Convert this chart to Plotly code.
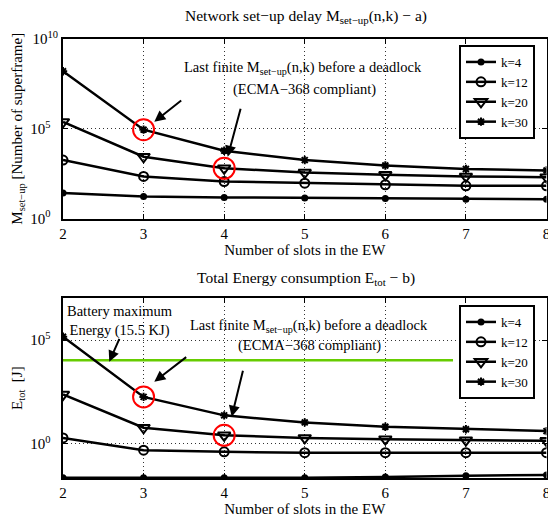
import plotly.graph_objects as go

# ---------------- data ----------------
n_slots = [2, 3, 4, 5, 6, 7, 8]
series_names = ["k=4", "k=12", "k=20", "k=30"]

# Network set-up delay M_set-up(n,k) [number of superframes]
msetup_k4 = [26, 17, 15, 14, 13, 12, 12]
msetup_k12 = [1800, 220, 115, 93, 76, 66, 66]
msetup_k20 = [2.4e5, 2750, 630, 360, 270, 220, 200]
msetup_k30 = [1.6e8, 8.9e4, 6000, 1800, 890, 575, 470]

# Total energy consumption E_tot [J]
etot_k4 = [0.022, 0.022, 0.022, 0.0224, 0.024, 0.028, 0.030]
etot_k12 = [1.86, 0.48, 0.40, 0.36, 0.36, 0.36, 0.36]
etot_k20 = [235, 5.8, 2.5, 1.86, 1.62, 1.45, 1.35]
etot_k30 = [1.45e5, 180, 23, 10.5, 6.5, 4.9, 4.0]

# Battery maximum energy line
battery_x = [2, 6.84]
battery_e = [1.05e4, 1.05e4]

NB = "\u00a0"
ytick_vals_top = [1, 1e5, 1e10]
ytick_text_top = ["10<sup>0</sup>" + NB * 2, "10<sup>5</sup>" + NB * 2, "10<sup>10</sup>"]
ytick_vals_bot = [1, 1e5]
ytick_text_bot = ["10<sup>0</sup>" + NB * 2, "10<sup>5</sup>" + NB * 2]

# ---------------- layout geometry ----------------
W, H = 548, 519
X_L, X_R = 63, 546.5
TOP_T, TOP_B = 39, 218.5
BOT_T, BOT_B = 298.3, 478
TOP_RANGE = [0, 10]
BOT_RANGE = [-1.665, 7.02]

FONT = "Liberation Serif"
FS = 15

def xd(px):
    return 2 + (px - X_L) / (X_R - X_L) * 6

def yd_top(py):
    return TOP_RANGE[0] + (TOP_B - py) / (TOP_B - TOP_T) * (TOP_RANGE[1] - TOP_RANGE[0])

def yd_bot(py):
    return BOT_RANGE[0] + (BOT_B - py) / (BOT_B - BOT_T) * (BOT_RANGE[1] - BOT_RANGE[0])

fig = go.Figure()

styles = [
    dict(symbol="circle", size=7, color="black", line=dict(width=0)),
    dict(symbol="circle-open", size=9, color="black", line=dict(width=2, color="black")),
    dict(symbol="triangle-down-open", size=11, color="black", line=dict(width=2, color="black")),
    dict(symbol="asterisk-open", size=7, color="black", line=dict(width=2, color="black")),
]

top_series = [msetup_k4, msetup_k12, msetup_k20, msetup_k30]
bot_series = [etot_k4, etot_k12, etot_k20, etot_k30]

for name, vals, st in zip(series_names, top_series, styles):
    fig.add_trace(go.Scatter(x=n_slots, y=vals, mode="lines+markers", name=name,
                             line=dict(color="black", width=2.5), marker=st,
                             xaxis="x", yaxis="y", legend="legend"))

fig.add_trace(go.Scatter(x=battery_x, y=battery_e, mode="lines", showlegend=False,
                         line=dict(color="#66cc00", width=2.5), xaxis="x2", yaxis="y2"))

for name, vals, st in zip(series_names, bot_series, styles):
    fig.add_trace(go.Scatter(x=n_slots, y=vals, mode="lines+markers", name=name,
                             line=dict(color="black", width=2.5), marker=st,
                             xaxis="x2", yaxis="y2", legend="legend2"))

# red circles highlighting the last finite points before a deadlock
circle_marker = dict(symbol="circle-open", size=21, color="red", line=dict(width=2, color="red"))
fig.add_trace(go.Scatter(x=[n_slots[1], n_slots[2]], y=[msetup_k30[1], msetup_k20[2]],
                         mode="markers", marker=circle_marker, showlegend=False,
                         xaxis="x", yaxis="y", hoverinfo="skip"))
fig.add_trace(go.Scatter(x=[n_slots[1], n_slots[2]], y=[etot_k30[1], etot_k20[2]],
                         mode="markers", marker=circle_marker, showlegend=False,
                         xaxis="x2", yaxis="y2", hoverinfo="skip"))

axis_common = dict(
    showline=True, linecolor="black", linewidth=2, mirror="allticks",
    ticks="inside", ticklen=5, tickwidth=1, tickcolor="black",
    showgrid=True, gridcolor="#333", griddash="1px,3px", gridwidth=1,
    zeroline=False, tickfont=dict(family=FONT, size=FS, color="black"),
    automargin=False, ticklabeloverflow="allow",
)

xdom = [X_L / W, X_R / W]
legend_common = dict(xanchor="left", yanchor="top", bordercolor="black", borderwidth=2,
                     bgcolor="white", font=dict(family=FONT, size=13), itemwidth=30,
                     tracegroupgap=0)
fig.update_layout(
    width=W, height=H,
    margin=dict(l=0, r=0, t=0, b=0),
    paper_bgcolor="white", plot_bgcolor="white",
    font=dict(family=FONT, size=FS, color="black"),
    xaxis=dict(domain=xdom, range=[2, 8], tickvals=n_slots, anchor="y",
               title=dict(text="Number of slots in the EW", standoff=2,
                          font=dict(family=FONT, size=FS)), **axis_common),
    yaxis=dict(domain=[1 - TOP_B / H, 1 - TOP_T / H], type="log", range=TOP_RANGE,
               tickvals=ytick_vals_top, ticktext=ytick_text_top, anchor="x",
               title=dict(text="M<sub>set\u2212up</sub> [Number of superframe]", standoff=4,
                          font=dict(family=FONT, size=FS)), **axis_common),
    xaxis2=dict(domain=xdom, range=[2, 8], tickvals=n_slots, anchor="y2",
                title=dict(text="Number of slots in the EW", standoff=2,
                           font=dict(family=FONT, size=FS)), **axis_common),
    yaxis2=dict(domain=[1 - BOT_B / H, 1 - BOT_T / H], type="log", range=BOT_RANGE,
                tickvals=ytick_vals_bot, ticktext=ytick_text_bot, anchor="x2",
                title=dict(text="E<sub>tot</sub>  [J]", standoff=4,
                           font=dict(family=FONT, size=FS)), **axis_common),
    legend=dict(x=459 / W, y=1 - 45 / H, **legend_common),
    legend2=dict(x=459 / W, y=1 - 305 / H, **legend_common),
)

anns = []
# titles
anns.append(dict(text="Network set\u2212up delay M<sub>set\u2212up</sub>(n,k) \u2212 a)",
                 xref="paper", yref="paper", x=306 / W, y=1 - 17 / H,
                 xanchor="center", yanchor="middle", showarrow=False,
                 font=dict(family=FONT, size=15.5)))
anns.append(dict(text="Total Energy consumption E<sub>tot</sub> \u2212 b)",
                 xref="paper", yref="paper", x=306 / W, y=1 - 278 / H,
                 xanchor="center", yanchor="middle", showarrow=False,
                 font=dict(family=FONT, size=15.5)))

AFS = 14.5
# text annotations, top
anns.append(dict(text="Last finite M<sub>set\u2212up</sub>(n,k) before a deadlock",
                 xref="x", yref="y", x=xd(303), y=yd_top(68), xanchor="center", yanchor="middle",
                 showarrow=False, font=dict(family=FONT, size=AFS)))
anns.append(dict(text="(ECMA\u2212368 compliant)", xref="x", yref="y", x=xd(304), y=yd_top(89),
                 xanchor="center", yanchor="middle", showarrow=False, font=dict(family=FONT, size=AFS)))
# text annotations, bottom
anns.append(dict(text="Battery maximum<br>Energy (15.5 KJ)", xref="x2", yref="y2",
                 x=xd(120), y=yd_bot(321), xanchor="center", yanchor="middle",
                 showarrow=False, font=dict(family=FONT, size=AFS)))
anns.append(dict(text="Last finite M<sub>set\u2212up</sub>(n,k) before a deadlock",
                 xref="x2", yref="y2", x=xd(309), y=yd_bot(326), xanchor="center", yanchor="middle",
                 showarrow=False, font=dict(family=FONT, size=AFS)))
anns.append(dict(text="(ECMA\u2212368 compliant)", xref="x2", yref="y2", x=xd(309), y=yd_bot(345),
                 xanchor="center", yanchor="middle", showarrow=False, font=dict(family=FONT, size=AFS)))

def arrow(xr, yr, yfun, head, tail):
    return dict(text="", xref=xr, yref=yr, x=xd(head[0]), y=yfun(head[1]),
                ax=tail[0] - head[0], ay=tail[1] - head[1],
                showarrow=True, arrowhead=2, arrowsize=1.1, arrowwidth=2, arrowcolor="black",
                standoff=0, startstandoff=0)

anns.append(arrow("x", "y", yd_top, (154.3, 121.7), (182.7, 99.3)))
anns.append(arrow("x", "y", yd_top, (227.7, 156.7), (241, 107.3)))
anns.append(arrow("x2", "y2", yd_bot, (109.3, 361.7), (120, 337.3)))
anns.append(arrow("x2", "y2", yd_bot, (154.3, 381.7), (187.7, 356)))
anns.append(arrow("x2", "y2", yd_bot, (231.7, 416.7), (243.3, 369.3)))

fig.update_layout(annotations=anns)

fig.write_html("out.html", config={"displayModeBar": False},
               post_script="document.body.style.margin='0px';")
